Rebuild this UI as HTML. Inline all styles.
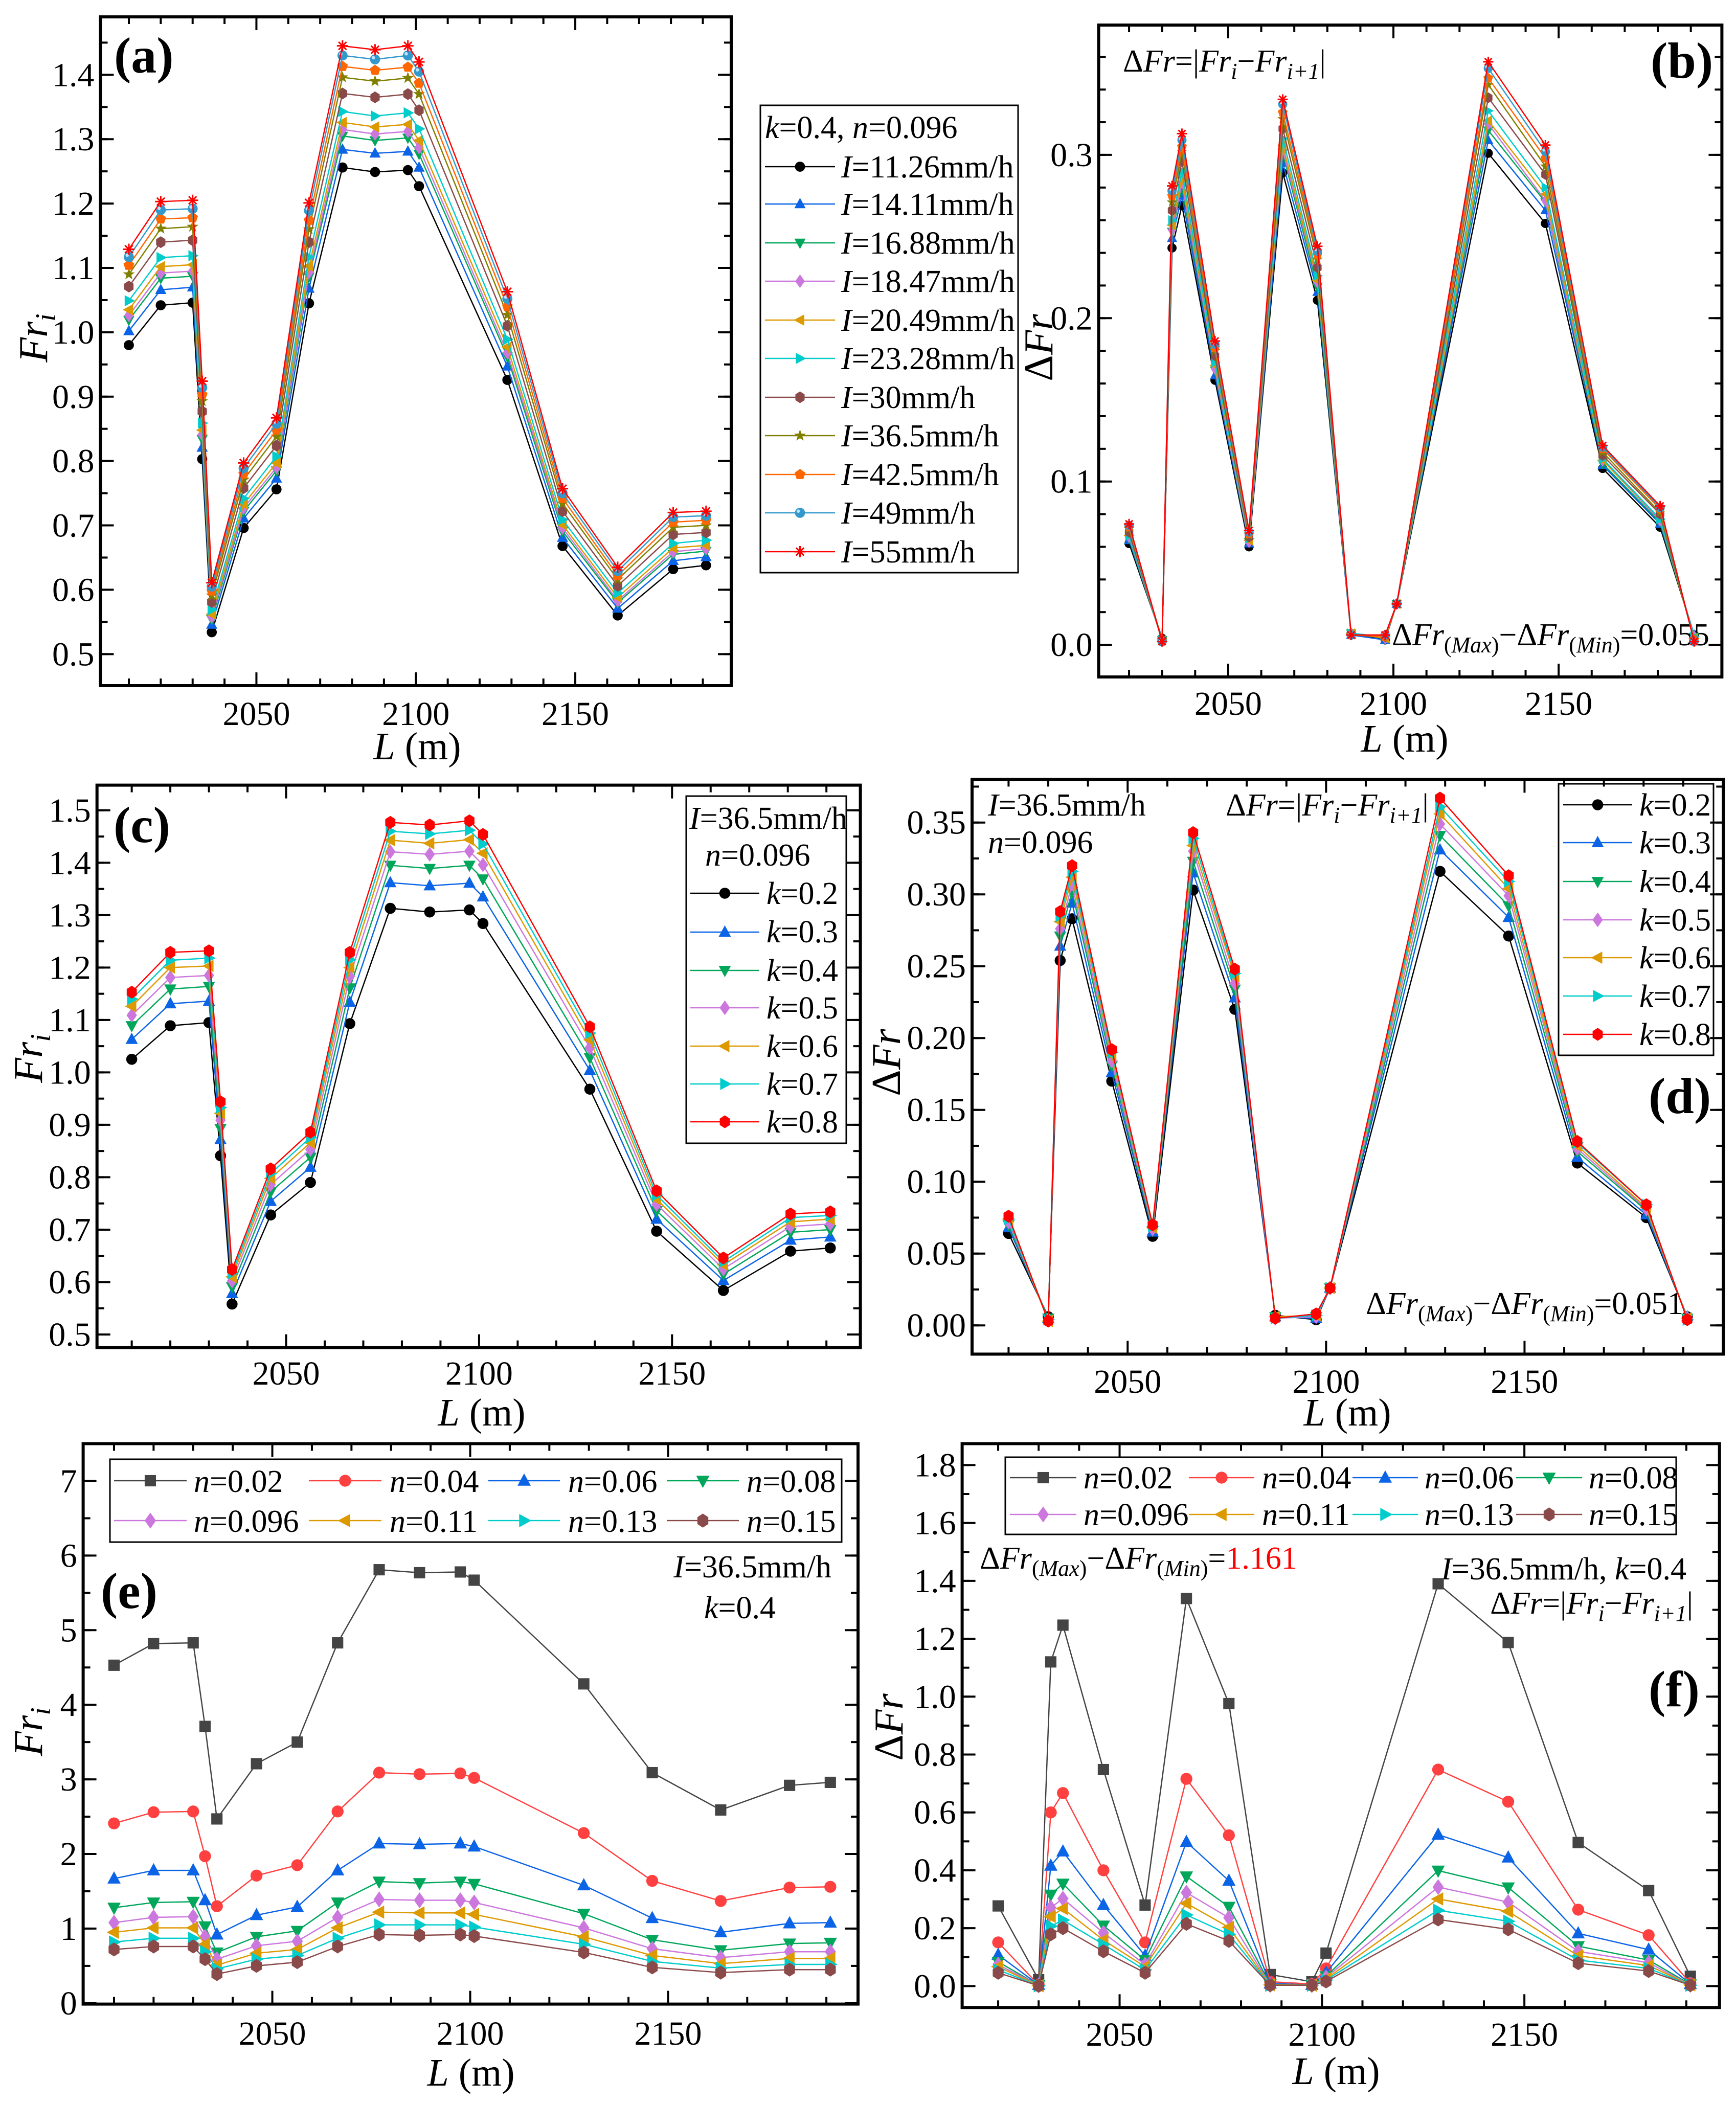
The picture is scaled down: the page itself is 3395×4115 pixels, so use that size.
<!DOCTYPE html>
<html><head><meta charset="utf-8"><title>Fr and ΔFr panels</title>
<style>
html,body{margin:0;padding:0;background:#fff;}
svg{display:block;font-family:"Liberation Serif",serif;}
.it{font-style:italic;}
</style></head>
<body>
<svg id="fig" xmlns="http://www.w3.org/2000/svg" width="3395" height="4115" viewBox="0 0 3395 4115">
<rect x="0" y="0" width="3395" height="4115" fill="#fff"/>

<!-- Panel a static -->
<g>
 <text x="223" y="142" font-size="100" font-weight="bold">(a)</text>
 <text transform="translate(92,661) rotate(-90)" text-anchor="middle" font-size="80"><tspan class="it">Fr</tspan><tspan class="it" font-size="56" dy="16">i</tspan></text>
 <text x="816" y="1485" text-anchor="middle" font-size="76"><tspan class="it">L</tspan>  (m)</text>
 <rect x="1487" y="206" width="504" height="914" fill="#fff" stroke="#000" stroke-width="3"/>
 <text x="1496" y="270" font-size="62"><tspan class="it">k</tspan>=0.4, <tspan class="it">n</tspan>=0.096</text>
 <g font-size="62">
  <text x="1645" y="347"><tspan class="it">I</tspan>=11.26mm/h</text>
  <text x="1645" y="420"><tspan class="it">I</tspan>=14.11mm/h</text>
  <text x="1645" y="496"><tspan class="it">I</tspan>=16.88mm/h</text>
  <text x="1645" y="571"><tspan class="it">I</tspan>=18.47mm/h</text>
  <text x="1645" y="647"><tspan class="it">I</tspan>=20.49mm/h</text>
  <text x="1645" y="722"><tspan class="it">I</tspan>=23.28mm/h</text>
  <text x="1645" y="798"><tspan class="it">I</tspan>=30mm/h</text>
  <text x="1645" y="873"><tspan class="it">I</tspan>=36.5mm/h</text>
  <text x="1645" y="949"><tspan class="it">I</tspan>=42.5mm/h</text>
  <text x="1645" y="1024"><tspan class="it">I</tspan>=49mm/h</text>
  <text x="1645" y="1100"><tspan class="it">I</tspan>=55mm/h</text>
 </g>
</g>

<!-- Panel b static -->
<g>
 <text x="2196" y="140" font-size="62">Δ<tspan class="it">Fr</tspan>=|<tspan class="it">Fr</tspan><tspan class="it" font-size="44" dy="14">i</tspan><tspan dy="-14">−</tspan><tspan class="it">Fr</tspan><tspan class="it" font-size="44" dy="14">i+1</tspan><tspan dy="-14">|</tspan></text>
 <text x="3228" y="152" font-size="100" font-weight="bold">(b)</text>
 <text x="2722" y="1262" font-size="62">Δ<tspan class="it">Fr</tspan><tspan font-size="44" dy="14">(<tspan class="it">Max</tspan>)</tspan><tspan dy="-14">−Δ</tspan><tspan class="it">Fr</tspan><tspan font-size="44" dy="14">(<tspan class="it">Min</tspan>)</tspan><tspan dy="-14">=0.055</tspan></text>
 <text transform="translate(2058,680) rotate(-90)" text-anchor="middle" font-size="80">Δ<tspan class="it">Fr</tspan></text>
 <text x="2747" y="1470" text-anchor="middle" font-size="76"><tspan class="it">L</tspan>  (m)</text>
</g>

<!-- Panel c static -->
<g>
 <text x="222" y="1647" font-size="100" font-weight="bold">(c)</text>
 <text transform="translate(82,2070) rotate(-90)" text-anchor="middle" font-size="80"><tspan class="it">Fr</tspan><tspan class="it" font-size="56" dy="16">i</tspan></text>
 <text x="942" y="2788" text-anchor="middle" font-size="76"><tspan class="it">L</tspan>  (m)</text>
 <rect x="1342" y="1557" width="313" height="679" fill="#fff" stroke="#000" stroke-width="3"/>
 <text x="1348" y="1621" font-size="62"><tspan class="it">I</tspan>=36.5mm/h</text>
 <text x="1379" y="1693" font-size="62"><tspan class="it">n</tspan>=0.096</text>
 <g font-size="62">
  <text x="1499" y="1768"><tspan class="it">k</tspan>=0.2</text>
  <text x="1499" y="1843"><tspan class="it">k</tspan>=0.3</text>
  <text x="1499" y="1919"><tspan class="it">k</tspan>=0.4</text>
  <text x="1499" y="1992"><tspan class="it">k</tspan>=0.5</text>
  <text x="1499" y="2067"><tspan class="it">k</tspan>=0.6</text>
  <text x="1499" y="2141"><tspan class="it">k</tspan>=0.7</text>
  <text x="1499" y="2215"><tspan class="it">k</tspan>=0.8</text>
 </g>
</g>

<!-- Panel d static -->
<g>
 <text x="1932" y="1595" font-size="62"><tspan class="it">I</tspan>=36.5mm/h</text>
 <text x="1932" y="1668" font-size="62"><tspan class="it">n</tspan>=0.096</text>
 <text x="2397" y="1595" font-size="62">Δ<tspan class="it">Fr</tspan>=|<tspan class="it">Fr</tspan><tspan class="it" font-size="44" dy="14">i</tspan><tspan dy="-14">−</tspan><tspan class="it">Fr</tspan><tspan class="it" font-size="44" dy="14">i+1</tspan><tspan dy="-14">|</tspan></text>
 <text x="3224" y="2177" font-size="100" font-weight="bold">(d)</text>
 <text x="2671" y="2570" font-size="62">Δ<tspan class="it">Fr</tspan><tspan font-size="44" dy="14">(<tspan class="it">Max</tspan>)</tspan><tspan dy="-14">−Δ</tspan><tspan class="it">Fr</tspan><tspan font-size="44" dy="14">(<tspan class="it">Min</tspan>)</tspan><tspan dy="-14">=0.051</tspan></text>
 <text transform="translate(1760,2078) rotate(-90)" text-anchor="middle" font-size="80">Δ<tspan class="it">Fr</tspan></text>
 <text x="2635" y="2788" text-anchor="middle" font-size="76"><tspan class="it">L</tspan>  (m)</text>
 <rect x="3048" y="1533" width="303" height="531" fill="#fff" stroke="#000" stroke-width="3"/>
 <g font-size="62">
  <text x="3206" y="1595"><tspan class="it">k</tspan>=0.2</text>
  <text x="3206" y="1669"><tspan class="it">k</tspan>=0.3</text>
  <text x="3206" y="1745"><tspan class="it">k</tspan>=0.4</text>
  <text x="3206" y="1820"><tspan class="it">k</tspan>=0.5</text>
  <text x="3206" y="1894"><tspan class="it">k</tspan>=0.6</text>
  <text x="3206" y="1969"><tspan class="it">k</tspan>=0.7</text>
  <text x="3206" y="2044"><tspan class="it">k</tspan>=0.8</text>
 </g>
</g>

<!-- Panel e static -->
<g>
 <rect x="215" y="2854" width="1431" height="162" fill="#fff" stroke="#000" stroke-width="3"/>
 <g font-size="62">
  <text x="379" y="2918"><tspan class="it">n</tspan>=0.02</text>
  <text x="762" y="2918"><tspan class="it">n</tspan>=0.04</text>
  <text x="1111" y="2918"><tspan class="it">n</tspan>=0.06</text>
  <text x="1460" y="2918"><tspan class="it">n</tspan>=0.08</text>
  <text x="379" y="2996"><tspan class="it">n</tspan>=0.096</text>
  <text x="762" y="2996"><tspan class="it">n</tspan>=0.11</text>
  <text x="1111" y="2996"><tspan class="it">n</tspan>=0.13</text>
  <text x="1460" y="2996"><tspan class="it">n</tspan>=0.15</text>
 </g>
 <text x="197" y="3145" font-size="100" font-weight="bold">(e)</text>
 <text x="1626" y="3085" text-anchor="end" font-size="62"><tspan class="it">I</tspan>=36.5mm/h</text>
 <text x="1377" y="3165" font-size="62"><tspan class="it">k</tspan>=0.4</text>
 <text transform="translate(82,3387) rotate(-90)" text-anchor="middle" font-size="80"><tspan class="it">Fr</tspan><tspan class="it" font-size="56" dy="16">i</tspan></text>
 <text x="921" y="4079" text-anchor="middle" font-size="76"><tspan class="it">L</tspan>  (m)</text>
</g>

<!-- Panel f static -->
<g>
 <rect x="1966" y="2850" width="1312" height="151" fill="#fff" stroke="#000" stroke-width="3"/>
 <g font-size="62">
  <text x="2119" y="2911"><tspan class="it">n</tspan>=0.02</text>
  <text x="2468" y="2911"><tspan class="it">n</tspan>=0.04</text>
  <text x="2786" y="2911"><tspan class="it">n</tspan>=0.06</text>
  <text x="3107" y="2911"><tspan class="it">n</tspan>=0.08</text>
  <text x="2119" y="2983"><tspan class="it">n</tspan>=0.096</text>
  <text x="2468" y="2983"><tspan class="it">n</tspan>=0.11</text>
  <text x="2786" y="2983"><tspan class="it">n</tspan>=0.13</text>
  <text x="3107" y="2983"><tspan class="it">n</tspan>=0.15</text>
 </g>
 <text x="1916" y="3068" font-size="62">Δ<tspan class="it">Fr</tspan><tspan font-size="44" dy="14">(<tspan class="it">Max</tspan>)</tspan><tspan dy="-14">−Δ</tspan><tspan class="it">Fr</tspan><tspan font-size="44" dy="14">(<tspan class="it">Min</tspan>)</tspan><tspan dy="-14">=</tspan><tspan fill="#ff0000">1.161</tspan></text>
 <text x="3298" y="3089" text-anchor="end" font-size="62"><tspan class="it">I</tspan>=36.5mm/h, <tspan class="it">k</tspan>=0.4</text>
 <text x="3311" y="3156" text-anchor="end" font-size="62">Δ<tspan class="it">Fr</tspan>=|<tspan class="it">Fr</tspan><tspan class="it" font-size="44" dy="14">i</tspan><tspan dy="-14">−</tspan><tspan class="it">Fr</tspan><tspan class="it" font-size="44" dy="14">i+1</tspan><tspan dy="-14">|</tspan></text>
 <text x="3224" y="3337" font-size="100" font-weight="bold">(f)</text>
 <text transform="translate(1765,3378) rotate(-90)" text-anchor="middle" font-size="80">Δ<tspan class="it">Fr</tspan></text>
 <text x="2613" y="4076" text-anchor="middle" font-size="76"><tspan class="it">L</tspan>  (m)</text>
</g>
</svg>

<script>
// ---------- shared x data ----------
const L = [2010,2020,2030,2033,2036,2046,2056.3,2066.5,2077,2087.2,2097.5,2101,2128.7,2146,2163.3,2180.7,2191];
const LD = [2020,2030,2033,2036,2046,2056.3,2066.5,2077,2087.2,2097.5,2101,2128.7,2146,2163.3,2180.7,2191];
const xMajorTicks = [2050,2100,2150];
const xMajorLabels = ['2050','2100','2150'];
const xMinorTicks = [2010,2020,2030,2040,2060,2070,2080,2090,2110,2120,2130,2140,2160,2170,2180,2190];

// ---------- panel a: Fr_i for rainfall intensities ----------
const aI1126 = [0.980,1.042,1.046,0.803,0.534,0.696,0.756,1.045,1.256,1.249,1.252,1.227,0.926,0.668,0.560,0.632,0.638];
const aI1411 = [1.002,1.066,1.070,0.821,0.546,0.711,0.773,1.068,1.284,1.278,1.281,1.256,0.947,0.681,0.571,0.645,0.651];
const aI1688 = [1.019,1.084,1.087,0.834,0.554,0.722,0.785,1.086,1.305,1.298,1.302,1.277,0.962,0.691,0.580,0.655,0.660];
const aI1847 = [1.026,1.092,1.095,0.841,0.558,0.727,0.790,1.093,1.315,1.308,1.312,1.287,0.968,0.696,0.583,0.659,0.664];
const aI2049 = [1.035,1.102,1.105,0.848,0.562,0.733,0.797,1.103,1.326,1.319,1.323,1.298,0.977,0.701,0.588,0.665,0.669];
const aI2328 = [1.049,1.116,1.119,0.859,0.569,0.742,0.807,1.117,1.343,1.336,1.341,1.316,0.989,0.709,0.595,0.672,0.677];
const aI30   = [1.071,1.140,1.143,0.877,0.581,0.758,0.824,1.140,1.371,1.365,1.370,1.345,1.010,0.722,0.606,0.686,0.689];
const aI365  = [1.090,1.161,1.164,0.893,0.591,0.771,0.838,1.160,1.396,1.390,1.395,1.370,1.027,0.734,0.616,0.697,0.700];
const aI425  = [1.104,1.176,1.178,0.903,0.598,0.780,0.848,1.174,1.413,1.407,1.412,1.387,1.040,0.742,0.622,0.705,0.708];
const aI49   = [1.117,1.190,1.192,0.914,0.605,0.789,0.858,1.189,1.430,1.424,1.430,1.405,1.052,0.750,0.629,0.713,0.715];
const aI55   = [1.129,1.203,1.205,0.924,0.611,0.797,0.867,1.201,1.445,1.439,1.445,1.420,1.063,0.757,0.635,0.720,0.722];
const aYTicks = [0.5,0.6,0.7,0.8,0.9,1.0,1.1,1.2,1.3,1.4];
const aYLabels = ['0.5','0.6','0.7','0.8','0.9','1.0','1.1','1.2','1.3','1.4'];

// ---------- panel b: ΔFr for rainfall intensities ----------
const bI1126 = [0.062,0.004,0.243,0.269,0.162,0.060,0.289,0.211,0.007,0.003,0.025,0.301,0.258,0.108,0.072,0.006];
const bI1411 = [0.064,0.004,0.249,0.275,0.165,0.062,0.295,0.216,0.006,0.003,0.025,0.309,0.266,0.110,0.074,0.006];
const bI1688 = [0.065,0.003,0.253,0.280,0.168,0.063,0.301,0.219,0.007,0.004,0.025,0.315,0.271,0.111,0.075,0.005];
const bI1847 = [0.066,0.003,0.254,0.283,0.169,0.063,0.303,0.222,0.007,0.004,0.025,0.319,0.272,0.113,0.076,0.005];
const bI2049 = [0.067,0.003,0.257,0.286,0.171,0.064,0.306,0.223,0.007,0.004,0.025,0.321,0.276,0.113,0.077,0.004];
const bI2328 = [0.067,0.003,0.260,0.290,0.173,0.065,0.310,0.226,0.007,0.005,0.025,0.327,0.280,0.114,0.077,0.005];
const bI30   = [0.069,0.003,0.266,0.296,0.177,0.066,0.316,0.231,0.006,0.005,0.025,0.335,0.288,0.116,0.080,0.003];
const bI365  = [0.071,0.003,0.271,0.302,0.180,0.067,0.322,0.236,0.006,0.005,0.025,0.343,0.293,0.118,0.081,0.003];
const bI425  = [0.072,0.002,0.275,0.305,0.182,0.068,0.326,0.239,0.006,0.005,0.025,0.347,0.298,0.120,0.083,0.003];
const bI49   = [0.073,0.002,0.278,0.309,0.184,0.069,0.331,0.241,0.006,0.006,0.025,0.353,0.302,0.121,0.084,0.002];
const bI55   = [0.074,0.002,0.281,0.313,0.186,0.070,0.334,0.244,0.006,0.006,0.025,0.357,0.306,0.122,0.085,0.002];
const bYTicks = [0.0,0.1,0.2,0.3];
const bYLabels = ['0.0','0.1','0.2','0.3'];

// ---------- panel c: Fr_i for k ----------
const cK02 = [1.025,1.089,1.095,0.841,0.558,0.728,0.790,1.093,1.313,1.306,1.310,1.284,0.968,0.697,0.584,0.659,0.665];
const cK03 = [1.063,1.131,1.136,0.872,0.578,0.754,0.819,1.134,1.362,1.356,1.361,1.335,1.004,0.720,0.603,0.680,0.686];
const cK04 = [1.089,1.159,1.164,0.893,0.591,0.772,0.838,1.161,1.395,1.389,1.395,1.369,1.028,0.736,0.615,0.695,0.700];
const cK05 = [1.109,1.181,1.185,0.909,0.602,0.786,0.853,1.183,1.421,1.416,1.422,1.396,1.047,0.748,0.625,0.706,0.711];
const cK06 = [1.126,1.200,1.203,0.922,0.610,0.798,0.866,1.200,1.443,1.437,1.444,1.418,1.062,0.758,0.633,0.715,0.720];
const cK07 = [1.140,1.214,1.218,0.933,0.617,0.807,0.876,1.215,1.460,1.455,1.462,1.436,1.075,0.766,0.639,0.723,0.727];
const cK08 = [1.153,1.229,1.232,0.944,0.624,0.816,0.886,1.229,1.477,1.472,1.480,1.454,1.087,0.774,0.646,0.730,0.734];
const cYTicks = [0.5,0.6,0.7,0.8,0.9,1.0,1.1,1.2,1.3,1.4,1.5];
const cYLabels = ['0.5','0.6','0.7','0.8','0.9','1.0','1.1','1.2','1.3','1.4','1.5'];

// ---------- panel d: ΔFr for k ----------
const dK02 = [0.064,0.006,0.254,0.283,0.170,0.062,0.303,0.220,0.007,0.004,0.026,0.316,0.271,0.113,0.075,0.006];
const dK03 = [0.068,0.005,0.264,0.294,0.176,0.065,0.315,0.228,0.006,0.005,0.026,0.331,0.284,0.117,0.077,0.006];
const dK04 = [0.070,0.005,0.271,0.302,0.181,0.066,0.323,0.234,0.006,0.006,0.026,0.341,0.292,0.121,0.080,0.005];
const dK05 = [0.072,0.004,0.276,0.307,0.184,0.067,0.330,0.238,0.005,0.006,0.026,0.349,0.299,0.123,0.081,0.005];
const dK06 = [0.074,0.003,0.281,0.312,0.188,0.068,0.334,0.243,0.006,0.007,0.026,0.356,0.304,0.125,0.082,0.005];
const dK07 = [0.074,0.004,0.285,0.316,0.190,0.069,0.339,0.245,0.005,0.007,0.026,0.361,0.309,0.127,0.084,0.004];
const dK08 = [0.076,0.003,0.288,0.320,0.192,0.070,0.343,0.248,0.005,0.008,0.026,0.367,0.313,0.128,0.084,0.004];
const dYTicks = [0.00,0.05,0.10,0.15,0.20,0.25,0.30,0.35];
const dYLabels = ['0.00','0.05','0.10','0.15','0.20','0.25','0.30','0.35'];

// ---------- panel e: Fr_i for n ----------
const eN002 = [4.53,4.82,4.83,3.71,2.47,3.21,3.50,4.83,5.81,5.77,5.78,5.67,4.28,3.09,2.59,2.92,2.96];
const eN004 = [2.41,2.56,2.57,1.97,1.30,1.71,1.85,2.57,3.09,3.07,3.08,3.02,2.28,1.64,1.37,1.55,1.56];
const eN006 = [1.67,1.78,1.78,1.38,0.92,1.18,1.29,1.78,2.14,2.13,2.14,2.10,1.58,1.14,0.95,1.07,1.08];
const eN008 = [1.28,1.35,1.36,1.03,0.68,0.89,0.97,1.35,1.63,1.61,1.63,1.60,1.20,0.85,0.71,0.80,0.81];
const eN0096 = [1.08,1.15,1.16,0.89,0.59,0.77,0.83,1.15,1.39,1.38,1.38,1.35,1.01,0.73,0.61,0.69,0.69];
const eN011 = [0.95,1.01,1.01,0.79,0.51,0.67,0.72,1.01,1.22,1.21,1.21,1.19,0.89,0.64,0.53,0.60,0.60];
const eN013 = [0.82,0.87,0.87,0.69,0.46,0.59,0.64,0.87,1.05,1.05,1.05,1.02,0.79,0.56,0.47,0.52,0.52];
const eN015 = [0.72,0.76,0.76,0.59,0.39,0.50,0.55,0.76,0.92,0.91,0.92,0.90,0.68,0.48,0.41,0.45,0.45];
const eYTicks = [0,1,2,3,4,5,6,7];
const eYLabels = ['0','1','2','3','4','5','6','7'];

// ---------- panel f: ΔFr for n ----------
const fN002 = [0.277,0.022,1.120,1.247,0.748,0.280,1.339,0.976,0.040,0.015,0.114,1.390,1.187,0.496,0.330,0.034];
const fN004 = [0.151,0.004,0.600,0.667,0.400,0.151,0.716,0.521,0.015,0.007,0.061,0.748,0.637,0.264,0.176,0.010];
const fN006 = [0.108,0.004,0.416,0.465,0.280,0.105,0.498,0.364,0.009,0.004,0.046,0.523,0.444,0.182,0.126,0.007];
const fN008 = [0.084,0.003,0.316,0.354,0.209,0.090,0.379,0.274,0.006,0.004,0.034,0.399,0.341,0.138,0.090,0.006];
const fN0096 = [0.074,0.003,0.271,0.302,0.184,0.074,0.323,0.236,0.004,0.003,0.030,0.342,0.290,0.120,0.081,0.004];
const fN011 = [0.067,0.001,0.241,0.268,0.159,0.067,0.286,0.203,0.004,0.003,0.025,0.301,0.258,0.105,0.071,0.004];
const fN013 = [0.056,0.001,0.207,0.228,0.144,0.056,0.246,0.179,0.003,0.003,0.021,0.262,0.224,0.090,0.061,0.003];
const fN015 = [0.046,0.001,0.179,0.200,0.120,0.046,0.215,0.156,0.003,0.003,0.016,0.230,0.196,0.079,0.052,0.003];
const fYTicks = [0.0,0.2,0.4,0.6,0.8,1.0,1.2,1.4,1.6,1.8];
const fYLabels = ['0.0','0.2','0.4','0.6','0.8','1.0','1.2','1.4','1.6','1.8'];

// ---------- styles (not data) ----------
const styleI = [
 ['circle','#000000'],['up','#0b63e6'],['down','#00a65a'],['diamond','#cc77dd'],['left','#dd9900'],
 ['right','#00cccc'],['hex','#8b4a4a'],['star','#808000'],['pent','#ff6600'],['sphere','#3399cc'],['asterisk','#ff0000']];
const styleK = [['circle','#000000'],['up','#0b63e6'],['down','#00a65a'],['diamond','#cc77dd'],['left','#dd9900'],['right','#00cccc'],['hex','#ff0000']];
const styleN = [['square','#444444'],['circle','#ff4040'],['up','#0b63e6'],['down','#00a65a'],['diamond','#cc77dd'],['left','#dd9900'],['right','#00cccc'],['hex','#8b4a4a']];

const NS = 'http://www.w3.org/2000/svg';
const fig = document.getElementById('fig');

function el(tag, attrs, parent){
  const e = document.createElementNS(NS, tag);
  for (const k in attrs) e.setAttribute(k, attrs[k]);
  (parent || fig).appendChild(e);
  return e;
}

function marker(g, type, cx, cy, r, col){
  let m;
  const pts = arr => arr.map(p => (cx + p[0]*r).toFixed(1) + ',' + (cy + p[1]*r).toFixed(1)).join(' ');
  if (type === 'circle') {
    m = el('circle', {cx:cx, cy:cy, r:r*0.9, fill:col}, g);
  } else if (type === 'sphere') {
    m = el('circle', {cx:cx, cy:cy, r:r*0.9, fill:col}, g);
    const h = el('circle', {cx:cx - r*0.3, cy:cy - r*0.3, r:r*0.3, fill:'#bfe3ff'}, g);
    
    
  } else if (type === 'square') {
    m = el('rect', {x:cx - r*0.85, y:cy - r*0.85, width:r*1.7, height:r*1.7, fill:col}, g);
  } else if (type === 'asterisk') {
    m = el('path', {d:`M${cx-r},${cy}H${cx+r}M${cx},${cy-r}V${cy+r}M${cx-r*0.7},${cy-r*0.7}L${cx+r*0.7},${cy+r*0.7}M${cx-r*0.7},${cy+r*0.7}L${cx+r*0.7},${cy-r*0.7}`, stroke:col, 'stroke-width':3, fill:'none'}, g);
  } else {
    let p;
    if (type === 'up') p = [[0,-1.1],[1,0.75],[-1,0.75]];
    else if (type === 'down') p = [[0,1.1],[1,-0.75],[-1,-0.75]];
    else if (type === 'left') p = [[-1.1,0],[0.75,-1],[0.75,1]];
    else if (type === 'right') p = [[1.1,0],[-0.75,-1],[-0.75,1]];
    else if (type === 'diamond') p = [[0,-1.2],[0.85,0],[0,1.2],[-0.85,0]];
    else if (type === 'hex') { p = []; for (let i = 0; i < 6; i++){ const a = Math.PI/2 + i*Math.PI/3; p.push([Math.cos(a)*0.95, Math.sin(a)*1.05]); } }
    else if (type === 'pent') { p = []; for (let i = 0; i < 5; i++){ const a = -Math.PI/2 + i*2*Math.PI/5; p.push([Math.cos(a)*1.0, Math.sin(a)*1.0]); } }
    else if (type === 'star') { p = []; for (let i = 0; i < 10; i++){ const a = -Math.PI/2 + i*Math.PI/5; const rr = i % 2 ? 0.45 : 1.1; p.push([Math.cos(a)*rr, Math.sin(a)*rr]); } }
    m = el('polygon', {points:pts(p), fill:col}, g);
  }
  
  
  return m;
}

function makePanel(id, p){
  const X = v => p.x0 + (v - p.xmin) / (p.xmax - p.xmin) * (p.x1 - p.x0);
  const Y = v => p.y1 - (v - p.ymin) / (p.ymax - p.ymin) * (p.y1 - p.y0);
  const g = el('g', {});
  
  
  const axes = el('g', {stroke:'#000', 'stroke-width':4}, g);
  
  
  // x ticks
  xMajorTicks.forEach((v, i) => {
    const x = X(v);
    const t1 = el('line', {x1:x, y1:p.y1, x2:x, y2:p.y1 - 26}, axes);
    
    
    const t2 = el('line', {x1:x, y1:p.y0, x2:x, y2:p.y0 + 26}, axes);
    
    
    const lb = el('text', {x:x, y:p.xLabY, 'text-anchor':'middle', 'font-size':66, stroke:'none', fill:'#000'}, g);
    lb.textContent = xMajorLabels[i];
    
    
  });
  xMinorTicks.forEach(v => {
    if (v < p.xmin || v > p.xmax) return;
    const x = X(v);
    const t1 = el('line', {x1:x, y1:p.y1, x2:x, y2:p.y1 - 14}, axes);
    
    
    const t2 = el('line', {x1:x, y1:p.y0, x2:x, y2:p.y0 + 14}, axes);
    
    
  });
  // y ticks
  p.yTicks.forEach((v, i) => {
    const y = Y(v);
    const t1 = el('line', {x1:p.x0, y1:y, x2:p.x0 + 26, y2:y}, axes);
    
    
    const t2 = el('line', {x1:p.x1, y1:y, x2:p.x1 - 26, y2:y}, axes);
    
    
    const lb = el('text', {x:p.x0 - 12, y:y + 22, 'text-anchor':'end', 'font-size':66, stroke:'none', fill:'#000'}, g);
    lb.textContent = p.yLabels[i];
    
    
  });
  for (let v = Math.ceil(p.ymin / p.yMinor) * p.yMinor; v <= p.ymax + 1e-9; v += p.yMinor) {
    const y = Y(v);
    const t1 = el('line', {x1:p.x0, y1:y, x2:p.x0 + 14, y2:y}, axes);
    
    
    const t2 = el('line', {x1:p.x1, y1:y, x2:p.x1 - 14, y2:y}, axes);
    
    
  }
  // series
  p.series.forEach((s, si) => {
    const st = p.styles[si];
    const sg = el('g', {}, g);
    
    
    const pl = el('polyline', {points:s.data.map((v, j) => X(p.xs[j]).toFixed(1) + ',' + Y(v).toFixed(1)).join(' '), fill:'none', stroke:st[1], 'stroke-width':p.lw}, sg);
    
    
    s.data.forEach((v, j) => { marker(sg, st[0], X(p.xs[j]), Y(v), p.mr, st[1]); });
  });
  // frame
  const fr = el('rect', {x:p.x0, y:p.y0, width:p.x1 - p.x0, height:p.y1 - p.y0, fill:'none', stroke:'#000', 'stroke-width':6}, g);
  
  
  // legend marks
  if (p.legend) {
    p.legend.forEach((le, i) => {
      const st = p.styles[i];
      const lg = el('g', {}, fig);
      
      
      const ln = el('line', {x1:le[0], y1:le[2], x2:le[1], y2:le[2], stroke:st[1], 'stroke-width':p.lw}, lg);
      
      
      marker(lg, st[0], (le[0] + le[1]) / 2, le[2], p.mr, st[1]);
    });
  }
}

function vRows(x0, x1, ys){ return ys.map(y => [x0, x1, y]); }

makePanel('a', {x0:196.5, x1:1430, y0:33, y1:1341, xmin:2001.1, xmax:2198.9, ymin:0.451, ymax:1.49,
  xLabY:1418, yTicks:aYTicks, yLabels:aYLabels, yMinor:0.05, xs:L, lw:2.5, mr:11, styles:styleI,
  series:[{name:'i11-26',data:aI1126},{name:'i14-11',data:aI1411},{name:'i16-88',data:aI1688},{name:'i18-47',data:aI1847},{name:'i20-49',data:aI2049},{name:'i23-28',data:aI2328},{name:'i30',data:aI30},{name:'i36-5',data:aI365},{name:'i42-5',data:aI425},{name:'i49',data:aI49},{name:'i55',data:aI55}],
  legend:vRows(1496, 1633, [326,399,475,550,626,701,777,852,928,1003,1079])});

makePanel('b', {x0:2148.6, x1:3367.4, y0:49, y1:1324, xmin:2010.8, xmax:2199.4, ymin:-0.0197, ymax:0.3795,
  xLabY:1398, yTicks:bYTicks, yLabels:bYLabels, yMinor:0.02, xs:LD, lw:2.5, mr:10, styles:styleI,
  series:[{name:'i11-26',data:bI1126},{name:'i14-11',data:bI1411},{name:'i16-88',data:bI1688},{name:'i18-47',data:bI1847},{name:'i20-49',data:bI2049},{name:'i23-28',data:bI2328},{name:'i30',data:bI30},{name:'i36-5',data:bI365},{name:'i42-5',data:bI425},{name:'i49',data:bI49},{name:'i55',data:bI55}]});

makePanel('c', {x0:189.7, x1:1682.6, y0:1535.6, y1:2635.6, xmin:2001.0, xmax:2198.8, ymin:0.475, ymax:1.548,
  xLabY:2708, yTicks:cYTicks, yLabels:cYLabels, yMinor:0.05, xs:L, lw:2.5, mr:12, styles:styleK,
  series:[{name:'k02',data:cK02},{name:'k03',data:cK03},{name:'k04',data:cK04},{name:'k05',data:cK05},{name:'k06',data:cK06},{name:'k07',data:cK07},{name:'k08',data:cK08}],
  legend:vRows(1350, 1485, [1747,1823,1898,1971,2046,2120,2194])});

makePanel('d', {x0:1901, x1:3370.3, y0:1524.4, y1:2648.4, xmin:2010.8, xmax:2200.1, ymin:-0.020, ymax:0.380,
  xLabY:2724, yTicks:dYTicks, yLabels:dYLabels, yMinor:0.025, xs:LD, lw:2.5, mr:12, styles:styleK,
  series:[{name:'k02',data:dK02},{name:'k03',data:dK03},{name:'k04',data:dK04},{name:'k05',data:dK05},{name:'k06',data:dK06},{name:'k07',data:dK07},{name:'k08',data:dK08}],
  legend:vRows(3057, 3192, [1574,1648,1724,1799,1873,1948,2023])});

makePanel('e', {x0:162.6, x1:1678, y0:2823.5, y1:3919.6, xmin:2002.2, xmax:2198, ymin:-0.012, ymax:7.5,
  xLabY:3999, yTicks:eYTicks, yLabels:eYLabels, yMinor:0.5, xs:L, lw:2.5, mr:13, styles:styleN,
  series:[{name:'n002',data:eN002},{name:'n004',data:eN004},{name:'n006',data:eN006},{name:'n008',data:eN008},{name:'n0096',data:eN0096},{name:'n011',data:eN011},{name:'n013',data:eN013},{name:'n015',data:eN015}],
  legend:[[223,365,2896],[604,746,2896],[955,1095,2896],[1304,1445,2896],[223,365,2974],[604,746,2974],[955,1095,2974],[1304,1445,2974]]});

makePanel('f', {x0:1881.6, x1:3362.7, y0:2823.5, y1:3926.3, xmin:2011.1, xmax:2198.2, ymin:-0.074, ymax:1.874,
  xLabY:4001, yTicks:fYTicks, yLabels:fYLabels, yMinor:0.1, xs:LD, lw:2.5, mr:13, styles:styleN,
  series:[{name:'n002',data:fN002},{name:'n004',data:fN004},{name:'n006',data:fN006},{name:'n008',data:fN008},{name:'n0096',data:fN0096},{name:'n011',data:fN011},{name:'n013',data:fN013},{name:'n015',data:fN015}],
  legend:[[1975,2105,2890],[2325,2453,2890],[2645,2773,2890],[2965,3094,2890],[1975,2105,2962],[2325,2453,2962],[2645,2773,2962],[2965,3094,2962]]});
</script>
</body></html>
